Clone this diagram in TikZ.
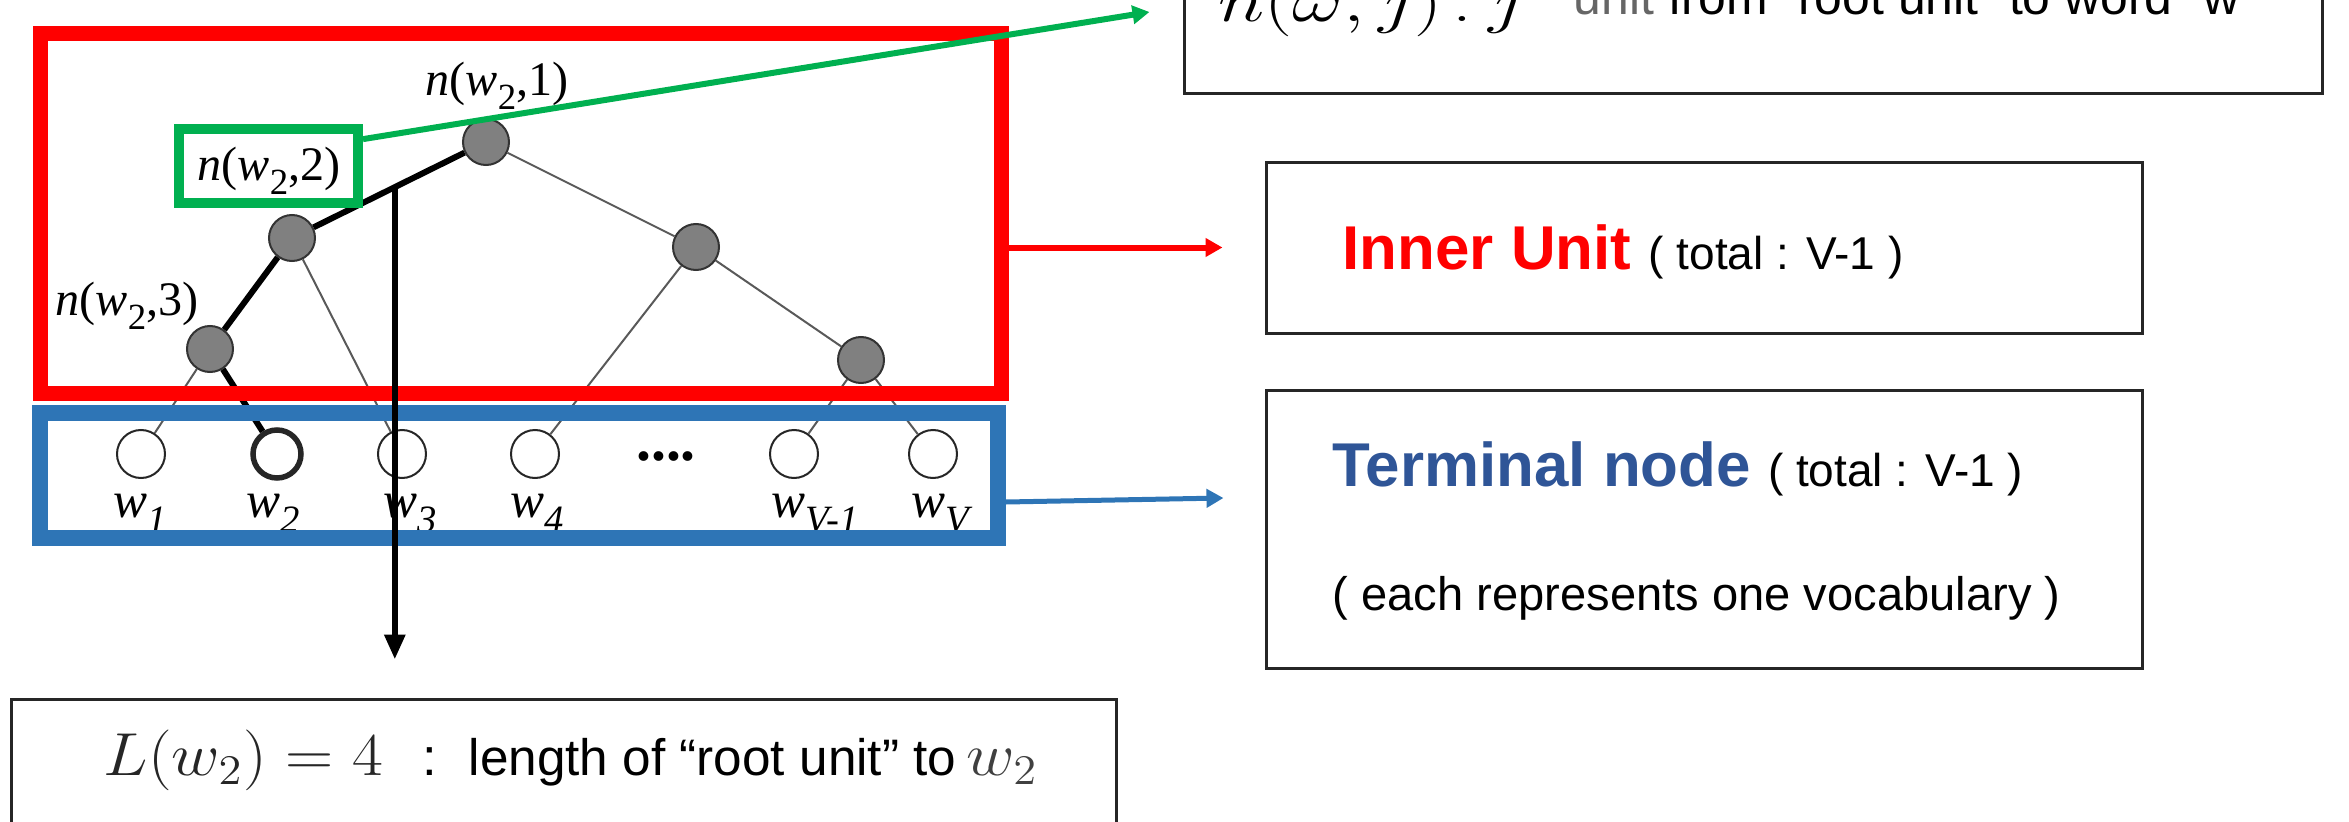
\documentclass[tikz,border=0pt]{standalone}
\usepackage{fontspec}
\setmainfont{Liberation Serif}
\newfontfamily\arialf{Liberation Sans}
\usetikzlibrary{arrows.meta,calc}
\definecolor{rd}{RGB}{255,0,0}
\definecolor{bl}{RGB}{46,117,182}
\definecolor{gr}{RGB}{0,176,80}
\definecolor{tblue}{RGB}{47,85,151}
\definecolor{ngray}{RGB}{128,128,128}
\newcommand\nlab[1]{\textit{n}(\textit{w}\raisebox{-0.3em}{\fontsize{10.5}{11}\selectfont 2},#1)}
\newcommand\wlab[1]{\textit{w}\raisebox{-0.3em}{\fontsize{11}{11}\selectfont\itshape #1}}
\newcommand\hstretch[2]{\scalebox{#1}[1]{#2}}
\tikzset{
  innode/.style={circle, draw=black!80, line width=0.2mm, fill=ngray, minimum size=4.6mm, inner sep=0},
  leaf/.style={circle, draw=black!85, line width=0.2mm, fill=white, minimum size=4.8mm, inner sep=0},
  thinedge/.style={draw=black!65, line width=0.2mm},
  thickedge/.style={draw=black, line width=0.6mm},
  lab/.style={inner sep=0, anchor=base west, font=\fontsize{13.7}{15}\selectfont},
  wl/.style={inner sep=0, anchor=base, font=\fontsize{14.5}{15}\selectfont},
  frame/.style={draw=black!85, line width=0.3mm, inner sep=0},
  txt/.style={inner sep=0, anchor=base west},
}
\begin{document}
\begin{tikzpicture}[x=0.1mm,y=-0.1mm]
\useasboundingbox (0,0) rectangle (2349,822);
\clip (0,0) rectangle (2349,822);
% tree nodes
\node[innode] (r) at (486,142) {};
\node[innode] (a) at (292,238) {};
\node[innode] (b) at (210,349) {};
\node[innode] (c) at (696,247) {};
\node[innode] (d) at (861,360) {};
\node[leaf] (w1) at (141,454) {};
\node[leaf, line width=0.55mm] (w2) at (277,454) {};
\node[leaf] (w3) at (402,454) {};
\node[leaf] (w4) at (535,454) {};
\node[leaf] (wv1) at (794,454) {};
\node[leaf] (wv) at (933,454) {};
% edges
\draw[thickedge] (r) -- (a);
\draw[thickedge] (a) -- (b);
\draw[thickedge] (b) -- (w2);
\draw[thinedge] (r) -- (c);
\draw[thinedge] (a) -- (w3);
\draw[thinedge] (b) -- (w1);
\draw[thinedge] (c) -- (w4);
\draw[thinedge] (c) -- (d);
\draw[thinedge] (d) -- (wv1);
\draw[thinedge] (d) -- (wv);
% leaf labels
\node[wl] (lw1) at (140,517) {\wlab{1}};
\node[wl] (lw2) at (273,517) {\wlab{2}};
\node[wl] (lw3) at (410,517) {\wlab{3}};
\node[wl] (lw4) at (537,517) {\wlab{4}};
\node[wl] (lwv1) at (815,517) {\wlab{V-1}};
\node[wl] (lwv) at (940,517) {\wlab{V}};
\node[inner sep=0, anchor=base, font=\bfseries\fontsize{17}{17}\selectfont] (dots) at (666,460) {....};
% inner labels
\node[lab] (l1) at (425,95) {\nlab{1}};
\node[lab] (l2) at (197,180) {\nlab{2}};
\node[lab] (l3) at (55,315) {\nlab{3}};
% coloured boxes
\node[draw=rd, line width=1.5mm, minimum width=96.1mm, minimum height=36mm, inner sep=0] (redbox) at (520.5,213) {};
\node[draw=bl, line width=1.6mm, minimum width=95.8mm, minimum height=12.5mm, inner sep=0] (bluebox) at (519,475.5) {};
\node[draw=gr, line width=1.0mm, minimum width=17.9mm, minimum height=7.4mm, inner sep=0] (gbox) at (268.5,166) {};
% right-hand boxes
\node[frame, minimum width=113.8mm, minimum height=17.4mm] (topbox) at (1753,7) {};
\node[frame, minimum width=87.6mm, minimum height=17.1mm] (inner) at (1704,247.5) {};
\node[frame, minimum width=87.6mm, minimum height=27.8mm] (term) at (1704,529) {};
\node[frame, minimum width=110.5mm, minimum height=20.1mm] (bbox) at (563.5,799.5) {};
% top text (cut by the picture's upper edge)
\node[txt] (tm) at (1218,21) {\fontsize{18}{19}\selectfont\hstretch{1.3}{$n(\omega, j)$}};
\node[inner sep=0, anchor=base] (tc) at (1462,21) {\fontsize{18}{19}\selectfont\hstretch{1.3}{$:$}};
\node[txt] (tj) at (1488,21) {\fontsize{18}{19}\selectfont\hstretch{1.3}{$j^{\mathrm{th}}$}};
\node[txt] (tu) at (1573,15) {\arialf\fontsize{14.2}{15}\selectfont\textcolor{black!60}{unit} from “root unit” to word “w”};
% right texts
\node[txt] (it) at (1342,269) {\arialf\bfseries\fontsize{17.6}{18}\selectfont\textcolor{rd}{Inner Unit} \mdseries\fontsize{13.1}{14}\selectfont( total : V-1 )};
\node[txt] (tn) at (1332,486) {\arialf\bfseries\fontsize{17.6}{18}\selectfont\textcolor{tblue}{Terminal node} \mdseries\fontsize{13.1}{14}\selectfont( total : V-1 )};
\node[txt] (ea) at (1332,610) {\arialf\fontsize{13.4}{14}\selectfont( each represents one vocabulary )};
% bottom text
\node[txt] (bm) at (103,775) {\fontsize{18}{19}\selectfont\color{black!85}\hstretch{1.1}{$L(w_2) = 4$}};
\node[inner sep=0, anchor=base] (bc) at (430,775) {\arialf\fontsize{15}{15}\selectfont :};
\node[txt] (bt) at (468,775) {\arialf\fontsize{14.6}{15}\selectfont length of “root unit” to};
\node[txt] (bw) at (966,775) {\fontsize{18}{19}\selectfont\color{black!75}\hstretch{1.1}{$w_2$}};
% connectors
\draw[gr, line width=0.6mm, -{Triangle[length=1.7mm, width=1.8mm]}] ($(gbox.north east)!0.18!(gbox.south east)$) -- ($(topbox.west)+(-33,5)$);
\draw[rd, line width=0.6mm, -{Triangle[length=1.7mm, width=1.8mm]}] (redbox.east |- inner.west) -- ($(inner.west)+(-42,0)$);
\draw[bl, line width=0.5mm, -{Triangle[length=1.7mm, width=1.8mm]}] ($(bluebox.east)+(0,26.5)$) -- ($(term.west)+(-41,-31)$);
\coordinate (bs) at ($(a)!0.53!(r)$);
\draw[black, line width=0.6mm, -{Triangle[length=2.5mm, width=2mm]}] (bs) -- ($(bs |- bbox.north)+(0,-38)$);
\end{tikzpicture}
\end{document}
